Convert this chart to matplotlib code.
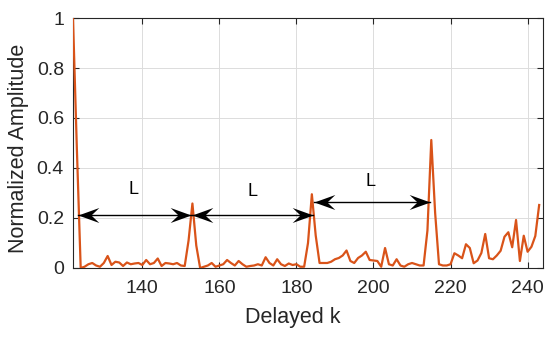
import numpy as np
import matplotlib
matplotlib.use("Agg")
import matplotlib.pyplot as plt
from matplotlib.path import Path

plt.rcParams['font.family'] = ['Liberation Sans', 'DejaVu Sans']

# ---- data ----
k_start = 122
amplitude = [
    1.0, 0.48, 0.0, 0.005, 0.015, 0.02, 0.01, 0.005, 0.02, 0.048,          # 122-131
    0.012, 0.025, 0.022, 0.008, 0.022, 0.015, 0.018, 0.02, 0.012, 0.032,   # 132-141
    0.015, 0.02, 0.038, 0.008, 0.02, 0.018, 0.015, 0.02, 0.01, 0.008,      # 142-151
    0.11, 0.258, 0.09, 0.0, 0.005, 0.01, 0.02, 0.005, 0.01, 0.015,         # 152-161
    0.032, 0.02, 0.01, 0.028, 0.015, 0.005, 0.008, 0.01, 0.015, 0.01,      # 162-171
    0.043, 0.02, 0.01, 0.035, 0.015, 0.008, 0.018, 0.012, 0.015, 0.005,    # 172-181
    0.005, 0.1, 0.295, 0.13, 0.02, 0.02, 0.02, 0.025, 0.035, 0.04,         # 182-191
    0.05, 0.07, 0.028, 0.02, 0.04, 0.05, 0.065, 0.032, 0.03, 0.028,        # 192-201
    0.005, 0.08, 0.015, 0.01, 0.035, 0.01, 0.005, 0.015, 0.02, 0.015,      # 202-211
    0.01, 0.01, 0.15, 0.512, 0.22, 0.015, 0.01, 0.01, 0.015, 0.059,        # 212-221
    0.05, 0.039, 0.095, 0.08, 0.019, 0.03, 0.06, 0.136, 0.039, 0.035,      # 222-231
    0.05, 0.069, 0.125, 0.143, 0.083, 0.192, 0.028, 0.129, 0.065, 0.085,   # 232-241
    0.128, 0.252,                                                          # 242-243
]
delays = np.arange(k_start, k_start + len(amplitude))

x_ticks = [140, 160, 180, 200, 220, 240]
y_ticks = [0, 0.2, 0.4, 0.6, 0.8, 1.0]
y_ticklabels = ['0', '0.2', '0.4', '0.6', '0.8', '1']

# arrows: (x_start, x_end, y) and labels
arrow_x0 = [123.4, 152.8, 184.6]
arrow_x1 = [152.6, 184.3, 214.7]
arrow_y = [0.212, 0.212, 0.262]
label_x = [137.8, 168.6, 199.1]
label_y = [0.312, 0.305, 0.345]
label_text = ['L', 'L', 'L']

# ---- figure ----
fig = plt.figure(figsize=(5.5, 3.41), dpi=100)
ax = fig.add_axes([0.1327, 0.2141, 0.8546, 0.7331])

ax.plot(delays, amplitude, color='#D95319', lw=1.6, zorder=3)

ax.set_xlim(122, 244)
ax.set_ylim(0, 1)
ax.set_xticks(x_ticks)
ax.set_yticks(y_ticks)
ax.set_yticklabels(y_ticklabels)
ax.grid(True, color='#dcdcdc', lw=0.7)
ax.set_axisbelow(True)
ax.tick_params(direction='in', length=4, width=0.8, top=True, right=True,
               labelsize=14, colors='#262626')
ax.tick_params(axis='x', pad=8.5)
ax.tick_params(axis='y', pad=6.5)
for sp in ax.spines.values():
    sp.set_color('#262626')
    sp.set_linewidth(0.8)

ax.set_xlabel('Delayed k', fontsize=15.5, color='#262626')
ax.set_ylabel('Normalized Amplitude', fontsize=15.5, color='#262626')
ax.xaxis.set_label_coords(0.468, -0.158)
ax.yaxis.set_label_coords(-0.094, 0.48)

# concave (vback) arrow head marker, tip at origin pointing right
head_r = Path([(0, 0), (-1, 0.36), (-0.62, 0), (-1, -0.36), (0, 0)],
              [Path.MOVETO, Path.LINETO, Path.LINETO, Path.LINETO, Path.CLOSEPOLY])
head_l = Path([(0, 0), (1, 0.36), (0.62, 0), (1, -0.36), (0, 0)],
              [Path.MOVETO, Path.LINETO, Path.LINETO, Path.LINETO, Path.CLOSEPOLY])

for x0, x1, y in zip(arrow_x0, arrow_x1, arrow_y):
    ax.plot([x0, x1], [y, y], color='black', lw=1.0, zorder=4)
    ax.plot([x0], [y], marker=head_l, markersize=30, color='black',
            markeredgewidth=0, zorder=5)
    ax.plot([x1], [y], marker=head_r, markersize=30, color='black',
            markeredgewidth=0, zorder=5)

for x, y, t in zip(label_x, label_y, label_text):
    ax.text(x, y, t, fontsize=13, ha='center', va='center', color='black', zorder=5)

fig.savefig('out.png', dpi=100)
